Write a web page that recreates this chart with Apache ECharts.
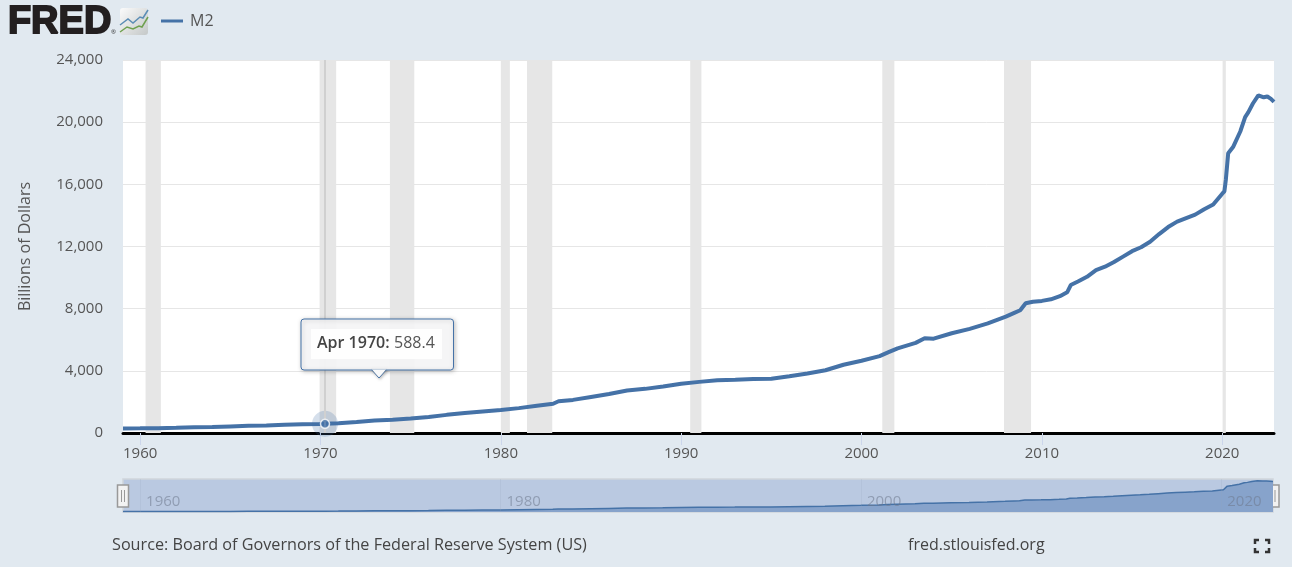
<!DOCTYPE html>
<html><head><meta charset="utf-8">
<style>html,body{margin:0;padding:0;background:#e1e9f0}#c{width:1292px;height:567px}</style>
<script src="https://cdn.jsdelivr.net/npm/echarts@6/dist/echarts.min.js"></script>
</head><body><div id="c"></div>
<script>
const seriesName = 'M2';
const years = [1959.05,1960,1961,1962,1963,1964,1965,1966,1967,1968,1969,1970,1970.25,1971,1972,1973,1974,1975,1976,1977,1978,1979,1980,1981,1982,1982.9,1983.2,1984,1985,1986,1987,1988,1989,1990,1991,1992,1993,1994,1995,1996,1997,1998,1999,2000,2001,2001.5,2002,2003,2003.5,2004,2005,2006,2007,2008,2008.5,2008.8,2009.1,2009.5,2010,2010.5,2011,2011.4,2011.6,2012,2012.5,2013,2013.5,2014,2014.5,2015,2015.5,2016,2016.5,2017,2017.5,2018,2018.5,2019,2019.5,2020,2020.12,2020.2,2020.33,2020.6,2021,2021.27,2021.45,2021.7,2022,2022.1,2022.3,2022.5,2022.7,2022.87];
const m2Values = [287,298,313,335,364,393,425,459,481,527,568,577,588.4,628,710,802,856,933,1035,1167,1288,1388,1480,1600,1760,1880,2040,2130,2320,2510,2740,2840,2990,3170,3290,3390,3420,3470,3490,3650,3830,4040,4390,4650,4950,5200,5450,5800,6100,6070,6420,6700,7050,7490,7750,7900,8350,8450,8500,8600,8800,9050,9520,9750,10050,10480,10700,11000,11350,11700,11950,12300,12800,13250,13600,13830,14050,14400,14700,15400,15550,16300,18000,18400,19400,20330,20650,21200,21730,21700,21600,21650,21500,21300];
const yTicks = {min:0,max:24000,interval:4000};
const xTickYears = [1960,1970,1980,1990,2000,2010,2020];
const navTickYears = [1960,1980,2000,2020];
const recessionStarts = [1960.3,1969.95,1973.85,1980.0,1981.45,1990.5,2001.15,2007.9,2020.02];
const recessionEnds = [1961.15,1970.87,1975.2,1980.5,1982.85,1991.12,2001.82,2009.4,2020.2];
const hoverYear = 1970.25, hoverValue = 588.4;
const hoverDate = 'Apr 1970:', hoverText = '588.4';
const sourceText = 'Source: Board of Governors of the Federal Reserve System (US)';
const siteText = 'fred.stlouisfed.org';
const yAxisTitle = 'Billions of Dollars';

const FONT = '"Open Sans", sans-serif';
const BLUE = '#4572a7';
const pts = years.map((y,i)=>[y,m2Values[i]]);
const xMin = 1959.05, xMax = 2022.87;
const navHandle = (x)=>({type:'group',z:100,children:[
  {type:'rect',shape:{x:x,y:485,width:11,height:22},style:{fill:'#f2f2f2',stroke:'#999',lineWidth:1.5}},
  {type:'line',shape:{x1:x+4,y1:490,x2:x+4,y2:502},style:{stroke:'#999',lineWidth:1}},
  {type:'line',shape:{x1:x+7,y1:490,x2:x+7,y2:502},style:{stroke:'#999',lineWidth:1}}
]});
const corner = (pts)=>({type:'polyline',shape:{points:pts},style:{stroke:'#333',lineWidth:2.5,fill:null}});

const chart = echarts.init(document.getElementById('c'),null,{renderer:'canvas'});
chart.setOption({
  animation:false,
  backgroundColor:'#e1e9f0',
  textStyle:{fontFamily:FONT},
  legend:{data:[seriesName],left:156,top:8,icon:'rect',itemWidth:22,itemHeight:3,itemGap:6,
    textStyle:{fontFamily:FONT,fontSize:16,color:'#555',padding:[0,0,0,2]}},
  grid:[
    {left:123,right:18,top:60,height:373,show:true,backgroundColor:'#fff',borderWidth:0},
    {left:123,right:19,top:479,height:33,show:true,backgroundColor:'#bac9e1',borderColor:'#cfd5da',borderWidth:1.5}
  ],
  xAxis:[
    {type:'value',gridIndex:0,min:xMin,max:xMax,splitLine:{show:false},
      axisLine:{show:true,onZero:false,lineStyle:{color:'#000',width:3}},
      axisTick:{show:true,length:12,lineStyle:{color:'#ccd6eb',width:1},customValues:xTickYears},
      axisLabel:{color:'#555',fontFamily:FONT,fontSize:15,margin:13,customValues:xTickYears,formatter:v=>String(v)}},
    {type:'value',gridIndex:1,min:xMin,max:xMax,splitLine:{show:false},axisLine:{show:false},
      axisTick:{show:true,inside:true,length:33,lineStyle:{color:'rgba(150,165,190,.18)',width:1},customValues:navTickYears},
      axisLabel:{inside:true,color:'rgba(110,120,140,.55)',fontFamily:FONT,fontSize:15,margin:10,align:'left',verticalAlign:'middle',
        padding:[0,0,0,6],customValues:navTickYears,formatter:v=>String(v)},z:5}
  ],
  yAxis:[
    {type:'value',gridIndex:0,min:yTicks.min,max:yTicks.max,interval:yTicks.interval,
      name:yAxisTitle,nameLocation:'middle',nameGap:90,nameTextStyle:{color:'#555',fontSize:16,fontFamily:FONT},
      axisLine:{show:false},axisTick:{show:false},splitLine:{lineStyle:{color:'#e6e6e6',width:1}},
      axisLabel:{color:'#555',fontFamily:FONT,fontSize:15,margin:20,padding:[4,0,0,0],formatter:v=>v.toLocaleString('en-US')}},
    {type:'value',gridIndex:1,min:0,max:23000,show:false,splitLine:{show:false}}
  ],
  series:[
    {name:'Recessions',type:'line',xAxisIndex:0,yAxisIndex:0,data:[],silent:true,z:1,
      markArea:{silent:true,itemStyle:{color:'#e6e6e6'},
        data:recessionStarts.map((s,i)=>[{xAxis:s},{xAxis:recessionEnds[i]}])},
      markLine:{silent:true,symbol:'none',label:{show:false},lineStyle:{color:'#d0d0d0',width:2,type:'solid'},
        data:[{xAxis:hoverYear}]}},
    {name:seriesName,type:'line',xAxisIndex:0,yAxisIndex:0,data:pts,showSymbol:false,z:3,
      itemStyle:{color:BLUE},lineStyle:{color:BLUE,width:4}},
    {name:'Hover halo',type:'scatter',xAxisIndex:0,yAxisIndex:0,data:[[hoverYear,hoverValue]],symbolSize:26,z:4,
      itemStyle:{color:'rgba(69,114,167,.28)'}},
    {name:'Hover point',type:'scatter',xAxisIndex:0,yAxisIndex:0,data:[[hoverYear,hoverValue]],symbolSize:9,z:5,
      itemStyle:{color:BLUE,borderColor:'#fff',borderWidth:1.5}},
    {name:'Navigator',type:'line',xAxisIndex:1,yAxisIndex:1,data:pts,showSymbol:false,z:2,
      lineStyle:{color:BLUE,width:1.5},itemStyle:{color:BLUE},areaStyle:{color:'#87a3cb',opacity:1}}
  ],
  graphic:[
    {type:'text',left:7,top:3,z:50,style:{text:'FRED',fontFamily:'"Liberation Sans",Arial,sans-serif',fontWeight:'bold',fontSize:38,fill:'#231f20',stroke:'#231f20',lineWidth:1.8}},
    {type:'text',left:111,top:29,z:50,style:{text:'®',fontFamily:FONT,fontSize:6,fill:'#333'}},
    {type:'rect',z:50,shape:{x:120,y:8,width:28,height:27,r:3},style:{fill:new echarts.graphic.LinearGradient(0,0,1,1,[{offset:0,color:'#fbfbfb'},{offset:1,color:'#c4c8c8'}])}},
    {type:'polyline',z:51,shape:{points:[[120,25],[128,19],[133,23],[140,17],[143,18],[148,10]]},style:{stroke:'#5b8db5',lineWidth:1.5,fill:null}},
    {type:'polyline',z:51,shape:{points:[[120,32],[127,27],[133,29],[139,26],[142,27],[148,17]]},style:{stroke:'#6ea04f',lineWidth:1.5,fill:null}},
    {type:'polygon',z:59,shape:{points:[[371,369],[387,369],[379,378]]},style:{fill:'#f8f9fa',stroke:BLUE,lineWidth:1,shadowColor:'rgba(0,0,0,.25)',shadowBlur:3,shadowOffsetX:1,shadowOffsetY:1}},
    {type:'rect',z:60,shape:{x:301,y:319,width:152.5,height:51,r:3},style:{fill:'rgba(248,249,250,.92)',stroke:BLUE,lineWidth:1,shadowColor:'rgba(0,0,0,.25)',shadowBlur:4,shadowOffsetX:1,shadowOffsetY:1}},
    {type:'polygon',z:61,shape:{points:[[372,369.5],[386,369.5],[379,377]]},style:{fill:'#f8f9fa'}},
    {type:'rect',z:61,shape:{x:311,y:329,width:131,height:30},style:{fill:'#fff',opacity:.9}},
    {type:'text',z:62,left:317,top:335,style:{text:hoverDate,fontFamily:FONT,fontWeight:600,fontSize:16,fill:'#444'}},
    {type:'text',z:62,left:394,top:335,style:{text:hoverText,fontFamily:FONT,fontSize:16,fill:'#555'}},
    navHandle(117.5),navHandle(1268),
    {type:'text',left:112,top:537,z:50,style:{text:sourceText,fontFamily:FONT,fontSize:16.2,fill:'#444'}},
    {type:'text',left:908,top:537,z:50,style:{text:siteText,fontFamily:FONT,fontSize:16,fill:'#444'}},
    corner([[1255,544],[1255,540],[1259,540]]),corner([[1265,540],[1269,540],[1269,544]]),
    corner([[1255,548],[1255,552],[1259,552]]),corner([[1265,552],[1269,552],[1269,548]])
  ]
});
</script></body></html>
